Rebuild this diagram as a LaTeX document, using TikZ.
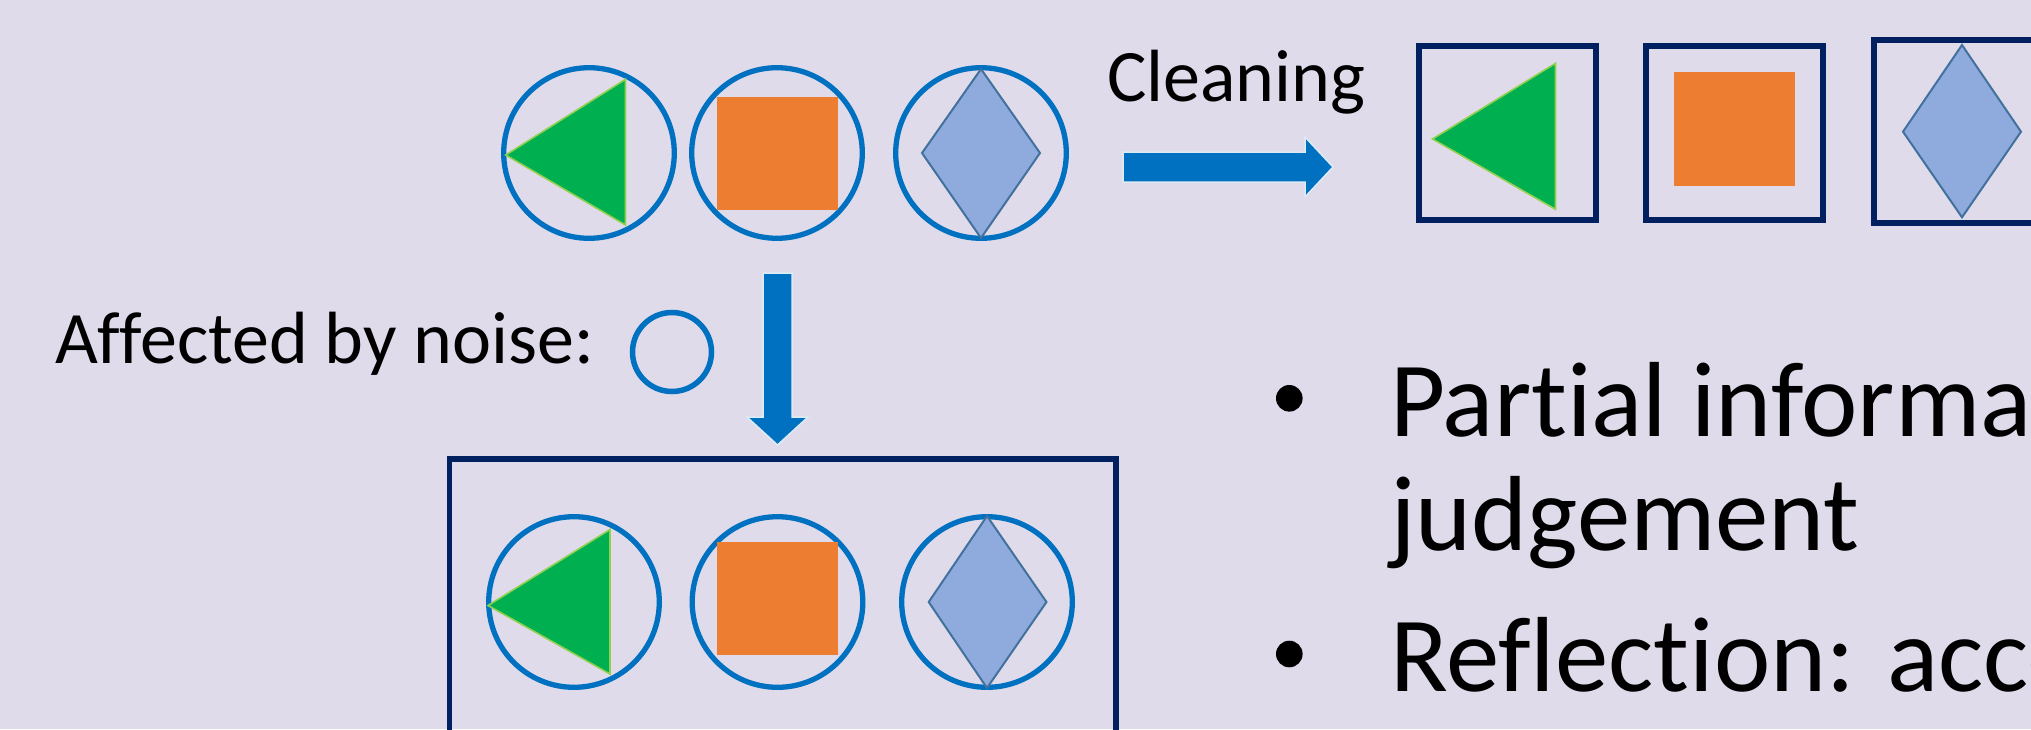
\documentclass[tikz,border=0pt]{standalone}
\usepackage{fontspec}
\setmainfont{Carlito}[Ligatures=CommonOff]
\definecolor{bgcol}{HTML}{E0DBEA}
\definecolor{ringblue}{HTML}{0070C0}
\definecolor{trigreen}{HTML}{00B050}
\definecolor{triedge}{HTML}{92D050}
\definecolor{sqorange}{HTML}{ED7D31}
\definecolor{dmfill}{HTML}{8FAADC}
\definecolor{dmedge}{HTML}{41719C}
\definecolor{navy}{HTML}{002060}
\definecolor{glow}{HTML}{DDEBF7}
\begin{document}
\begin{tikzpicture}[x=0.5pt,y=-0.5pt,
  ring/.style={circle, draw=ringblue, line width=2.65pt, inner sep=0pt, minimum size=85.3pt},
  smallring/.style={circle, draw=ringblue, line width=2.75pt, inner sep=0pt, minimum size=39.5pt},
  frame/.style={rectangle, draw=navy, line width=3pt, inner sep=0pt},
  tri/.style={fill=trigreen, draw=triedge, line width=0.8pt, line join=miter},
  sq/.style={fill=sqorange},
  dmd/.style={fill=dmfill, draw=dmedge, line width=1pt, line join=miter},
  blockarrow/.style={fill=ringblue, draw=glow, line width=0.75pt},
  lbl/.style={anchor=base west, inner sep=0pt, outer sep=0pt, text=black},
  smalltext/.style={font=\fontsize{37}{44}\selectfont},
  bigtext/.style={font=\fontsize{53.4}{57.35}\selectfont},
  dot/.style={circle, fill=black, inner sep=0pt, minimum size=13.3pt}]

\useasboundingbox (0,0) rectangle (2031,729);
\clip (0,0) rectangle (2031,729);
\fill[bgcol] (0,0) rectangle (2031,729);

% --- original objects, each inside a ring ---
\node[ring] (r1) at (589,153) {};
\node[ring] (r2) at (777,153) {};
\node[ring] (r3) at (981,153) {};
\draw[tri] (505.7,155) -- (625.5,79.3) -- (625.5,225) -- cycle;
\fill[sq] (716.5,97) rectangle (838,210);
\draw[dmd] (981,69) -- (1040,153) -- (981,238) -- (922,153) -- cycle;

% --- cleaning step ---
\node[lbl, smalltext] (clean) at (1107,101.7) {Cleaning};
\coordinate (clS) at (1123,167);
\coordinate (clE) at (1333,167);
\draw[blockarrow] (clS) ++(0,-15) -- ++(182,0) -- ++(0,-15) -- (clE)
  -- ++(-28,30) -- ++(0,-15) -- ++(-182,0) -- cycle;

% cleaned objects in separate frames
\node[frame, minimum width=88.25pt, minimum height=87pt] (f1) at (1507.25,133) {};
\node[frame, minimum width=88.5pt, minimum height=87pt] (f2) at (1734.6,133) {};
\node[frame, minimum width=88.5pt, minimum height=91.75pt] (f3) at (1962,131.5) {};
\draw[tri] (1432.5,139) -- (1555.5,63.3) -- (1555.5,209.3) -- cycle;
\fill[sq] (1674,72.3) rectangle (1795.4,185.7);
\draw[dmd] (1962,45) -- (2021,131.7) -- (1962,217.3) -- (1903,131.7) -- cycle;

% --- noise step ---
\node[lbl, smalltext] (noise) at (55,363.3) {Affected by noise:};
\node[smallring] (nzring) at (672,352) {};
\coordinate (nzS) at (777.5,273);
\coordinate (nzE) at (777.5,445);
\draw[blockarrow] (nzS) ++(-14.5,0) -- ++(29,0) -- ++(0,144) -- ++(16,0) -- (nzE)
  -- ++(-30.5,-28) -- ++(16,0) -- cycle;

% noisy objects grouped in one frame
\node[frame, line width=2.75pt, minimum width=333.25pt, minimum height=150.5pt] (grp) at (782.75,609.5) {};
\node[ring] (b1) at (574,602) {};
\node[ring] (b2) at (777.5,602) {};
\node[ring] (b3) at (987,602) {};
\draw[tri] (488,605.5) -- (610,529.5) -- (610,674) -- cycle;
\fill[sq] (716.6,542) rectangle (837.6,655.3);
\draw[dmd] (987,516) -- (1046.5,602) -- (987,688) -- (928.7,602) -- cycle;

% --- bullet points (base anchor of a two-line node sits on its last line) ---
\node[dot] (d1) at (1289.3,398.3) {};
\node[dot] (d2) at (1289.3,654) {};
\node[lbl, bigtext, align=left] (p1) at (1390,550.7) {Partial informa\\judgement};
\node[lbl, bigtext] (p2) at (1390,691) {Reflection: acco};
\end{tikzpicture}
\end{document}
